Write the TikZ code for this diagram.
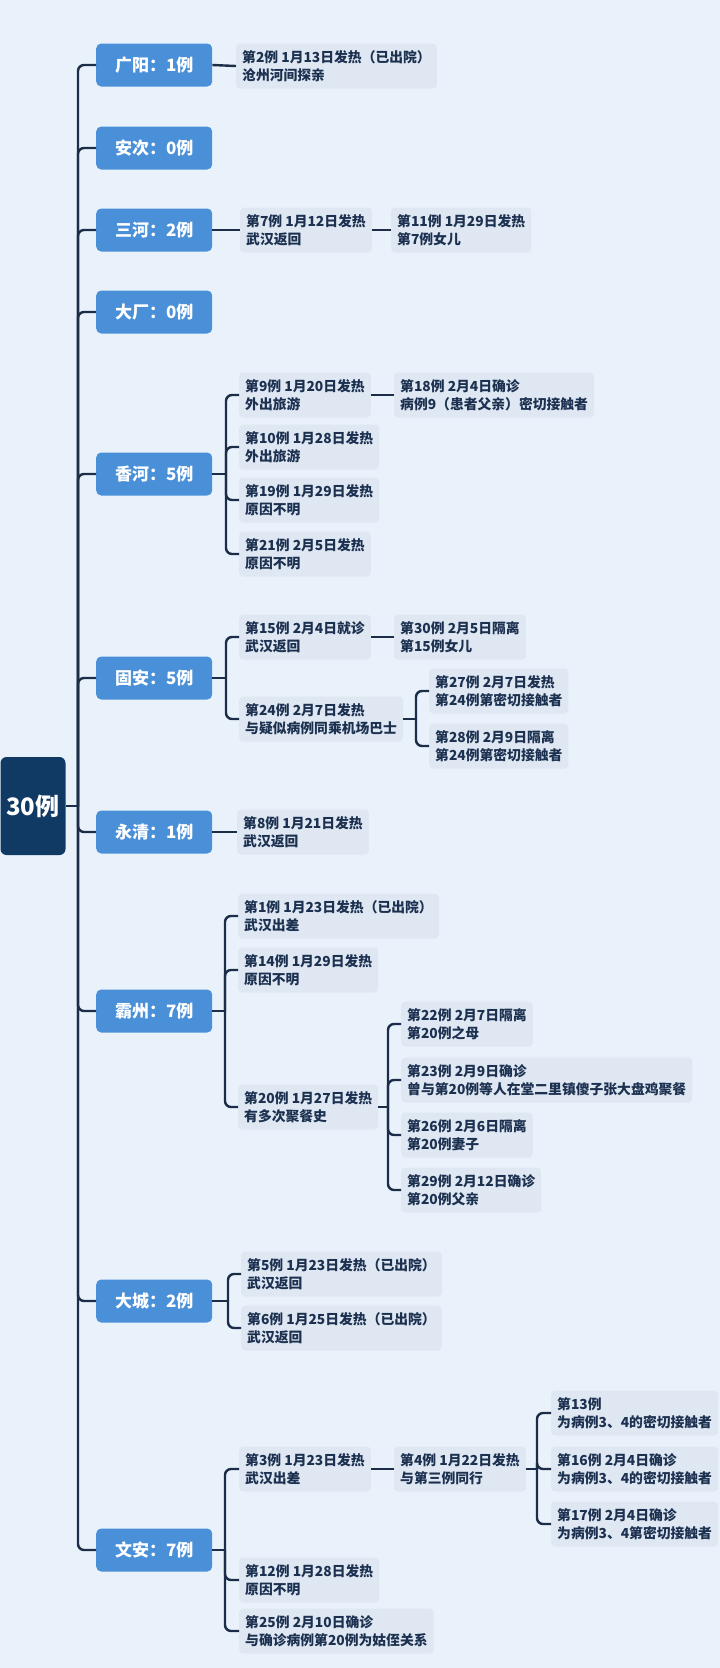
\documentclass[tikz,border=0pt]{standalone}
\usepackage{fontspec}
\setmainfont{Noto Sans CJK SC}
\usepackage{tikz}

\definecolor{bgblue}{RGB}{233,242,251}
\definecolor{leafbg}{RGB}{222,231,242}
\definecolor{citybox}{RGB}{74,144,217}
\definecolor{rootbox}{RGB}{16,57,100}
\definecolor{linenavy}{RGB}{27,45,72}
\definecolor{leaftext}{RGB}{28,48,80}

\begin{document}
\begin{tikzpicture}[x=1pt,y=-1pt,
	rootnode/.style={fill=rootbox, text=white, rounded corners=6pt, minimum width=65pt, minimum height=98pt, font=\bfseries\fontsize{24}{28}\selectfont},
	city/.style={anchor=west, fill=citybox, text=white, rounded corners=5pt, minimum width=116pt, minimum height=43pt, font=\bfseries\fontsize{17}{20}\selectfont},
	leaf/.style={anchor=west, fill=leafbg, text=leaftext, rounded corners=4pt, align=left, inner xsep=6pt, minimum height=45pt, font=\bfseries\fontsize{13.8}{18}\selectfont},
	link/.style={draw=linenavy, line width=2.4pt, rounded corners=6pt}]
	\fill[bgblue] (0,0) rectangle (720,1668);
	\useasboundingbox (0,0) rectangle (720,1668);
	% root and districts
	\node[rootnode] (root) at (33,806) {30例};
	\node[city] (gy) at (96,65) {广阳：1例};
	\node[city] (ac) at (96,148) {安次：0例};
	\node[city] (sh) at (96,230) {三河：2例};
	\node[city] (dc) at (96,312) {大厂：0例};
	\node[city] (xh) at (96,474) {香河：5例};
	\node[city] (ga) at (96,678) {固安：5例};
	\node[city] (yq) at (96,832) {永清：1例};
	\node[city] (bz) at (96,1011) {霸州：7例};
	\node[city] (dcg) at (96,1301) {大城：2例};
	\node[city] (wa) at (96,1550) {文安：7例};
	% cases
	\node[leaf] (n2) at (236,66) {第2例 1月13日发热（已出院）\\沧州河间探亲};
	\node[leaf] (n7) at (240,230) {第7例 1月12日发热\\武汉返回};
	\node[leaf] (n11) at (391,230) {第11例 1月29日发热\\第7例女儿};
	\node[leaf] (n9) at (239,395) {第9例 1月20日发热\\外出旅游};
	\node[leaf] (n18) at (394,395) {第18例 2月4日确诊\\病例9（患者父亲）密切接触者};
	\node[leaf] (n10) at (239,447) {第10例 1月28日发热\\外出旅游};
	\node[leaf] (n19) at (239,500) {第19例 1月29日发热\\原因不明};
	\node[leaf] (n21) at (239,554) {第21例 2月5日发热\\原因不明};
	\node[leaf] (n15) at (239,637) {第15例 2月4日就诊\\武汉返回};
	\node[leaf] (n30) at (394,637) {第30例 2月5日隔离\\第15例女儿};
	\node[leaf] (n24) at (239,719) {第24例 2月7日发热\\与疑似病例同乘机场巴士};
	\node[leaf] (n27) at (429,691) {第27例 2月7日发热\\第24例第密切接触者};
	\node[leaf] (n28) at (429,746) {第28例 2月9日隔离\\第24例第密切接触者};
	\node[leaf] (n8) at (237,832) {第8例 1月21日发热\\武汉返回};
	\node[leaf] (n1) at (238,916) {第1例 1月23日发热（已出院）\\武汉出差};
	\node[leaf] (n14) at (238,970) {第14例 1月29日发热\\原因不明};
	\node[leaf] (n20) at (238,1107) {第20例 1月27日发热\\有多次聚餐史};
	\node[leaf] (n22) at (401,1024) {第22例 2月7日隔离\\第20例之母};
	\node[leaf] (n23) at (401,1080) {第23例 2月9日确诊\\曾与第20例等人在堂二里镇傻子张大盘鸡聚餐};
	\node[leaf] (n26) at (401,1135) {第26例 2月6日隔离\\第20例妻子};
	\node[leaf] (n29) at (401,1190) {第29例 2月12日确诊\\第20例父亲};
	\node[leaf] (n5) at (241,1274) {第5例 1月23日发热（已出院）\\武汉返回};
	\node[leaf] (n6) at (241,1328) {第6例 1月25日发热（已出院）\\武汉返回};
	\node[leaf] (n3) at (239,1469) {第3例 1月23日发热\\武汉出差};
	\node[leaf] (n4) at (394,1469) {第4例 1月22日发热\\与第三例同行};
	\node[leaf] (n13) at (551,1413) {第13例\\为病例3、4的密切接触者};
	\node[leaf] (n16) at (551,1469) {第16例 2月4日确诊\\为病例3、4的密切接触者};
	\node[leaf] (n17) at (551,1524) {第17例 2月4日确诊\\为病例3、4第密切接触者};
	\node[leaf] (n12) at (239,1580) {第12例 1月28日发热\\原因不明};
	\node[leaf] (n25) at (239,1631) {第25例 2月10日确诊\\与确诊病例第20例为姑侄关系};
	% branch points
	\coordinate (trunk) at (78,806);
	\coordinate (xhb) at (226,474);
	\coordinate (gab) at (226,678);
	\coordinate (n24b) at (416,719);
	\coordinate (bzb) at (225,1011);
	\coordinate (n20b) at (388,1107);
	\coordinate (dcgb) at (228,1301);
	\coordinate (wab) at (225,1550);
	\coordinate (n4b) at (537,1469);
	% trunk
	\draw[link] (root.east) -- (trunk);
	\draw[link] (trunk) |- (gy.west);
	\draw[link] (trunk) |- (ac.west);
	\draw[link] (trunk) |- (sh.west);
	\draw[link] (trunk) |- (dc.west);
	\draw[link] (trunk) |- (xh.west);
	\draw[link] (trunk) |- (ga.west);
	\draw[link] (trunk) |- (yq.west);
	\draw[link] (trunk) |- (bz.west);
	\draw[link] (trunk) |- (dcg.west);
	\draw[link] (trunk) |- (wa.west);
	% single links
	\draw[link] (gy.east) -- (n2.west);
	\draw[link] (sh.east) -- (n7.west);
	\draw[link] (n7.east) -- (n11.west);
	\draw[link] (n9.east) -- (n18.west);
	\draw[link] (n15.east) -- (n30.west);
	\draw[link] (yq.east) -- (n8.west);
	\draw[link] (n3.east) -- (n4.west);
	% brackets
	\draw[link] (xh.east) -- (xhb);
	\draw[link] (xhb) |- (n9.west);
	\draw[link] (xhb) |- (n10.west);
	\draw[link] (xhb) |- (n19.west);
	\draw[link] (xhb) |- (n21.west);
	\draw[link] (ga.east) -- (gab);
	\draw[link] (gab) |- (n15.west);
	\draw[link] (gab) |- (n24.west);
	\draw[link] (n24.east) -- (n24b);
	\draw[link] (n24b) |- (n27.west);
	\draw[link] (n24b) |- (n28.west);
	\draw[link] (bz.east) -- (bzb);
	\draw[link] (bzb) |- (n1.west);
	\draw[link] (bzb) |- (n14.west);
	\draw[link] (bzb) |- (n20.west);
	\draw[link] (n20.east) -- (n20b);
	\draw[link] (n20b) |- (n22.west);
	\draw[link] (n20b) |- (n23.west);
	\draw[link] (n20b) |- (n26.west);
	\draw[link] (n20b) |- (n29.west);
	\draw[link] (dcg.east) -- (dcgb);
	\draw[link] (dcgb) |- (n5.west);
	\draw[link] (dcgb) |- (n6.west);
	\draw[link] (wa.east) -- (wab);
	\draw[link] (wab) |- (n3.west);
	\draw[link] (wab) |- (n12.west);
	\draw[link] (wab) |- (n25.west);
	\draw[link] (n4.east) -- (n4b);
	\draw[link] (n4b) |- (n13.west);
	\draw[link] (n4b) |- (n16.west);
	\draw[link] (n4b) |- (n17.west);
\end{tikzpicture}
\end{document}
